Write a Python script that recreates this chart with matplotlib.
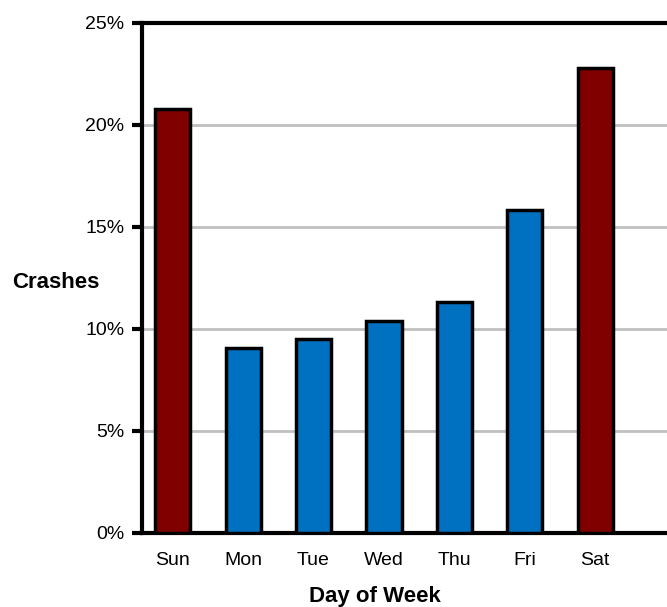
import matplotlib.pyplot as plt
from matplotlib.ticker import PercentFormatter

plt.rcParams['font.family'] = ['Liberation Sans', 'DejaVu Sans']

days = ['Sun', 'Mon', 'Tue', 'Wed', 'Thu', 'Fri', 'Sat']
crashes = [20.8, 9.05, 9.5, 10.4, 11.3, 15.8, 22.8]
weekend = ['Sun', 'Sat']

colors = ['#800000' if d in weekend else '#0070C0' for d in days]

fig = plt.figure(figsize=(6.67, 6.07), dpi=100)
ax = fig.add_axes([0.2136, 0.1227, 0.80, 0.8395])

x = range(len(days))
ax.bar(x, crashes, width=0.5, color=colors, edgecolor='black', linewidth=2.5, zorder=3)

ax.set_ylim(0, 25)
ax.set_xlim(-0.43, 7.15)
ax.set_yticks([0, 5, 10, 15, 20, 25])
ax.yaxis.set_major_formatter(PercentFormatter(decimals=0))
ax.set_xticks(list(x))
ax.set_xticklabels(days)
ax.tick_params(axis='x', length=0, pad=14, labelsize=14)
ax.tick_params(axis='y', length=7, width=3, direction='out', pad=6, labelsize=14)

ax.grid(axis='y', color='#c0c0c0', linewidth=2, zorder=0)
for s in ['left', 'top', 'bottom']:
    ax.spines[s].set_linewidth(3)
ax.spines['right'].set_visible(False)

fig.text(0.084, 0.535, 'Crashes', fontsize=16, fontweight='bold', ha='center', va='center')
fig.text(0.5625, 0.018, 'Day of Week', fontsize=16, fontweight='bold', ha='center', va='center')

fig.savefig('out.png', dpi=100)
